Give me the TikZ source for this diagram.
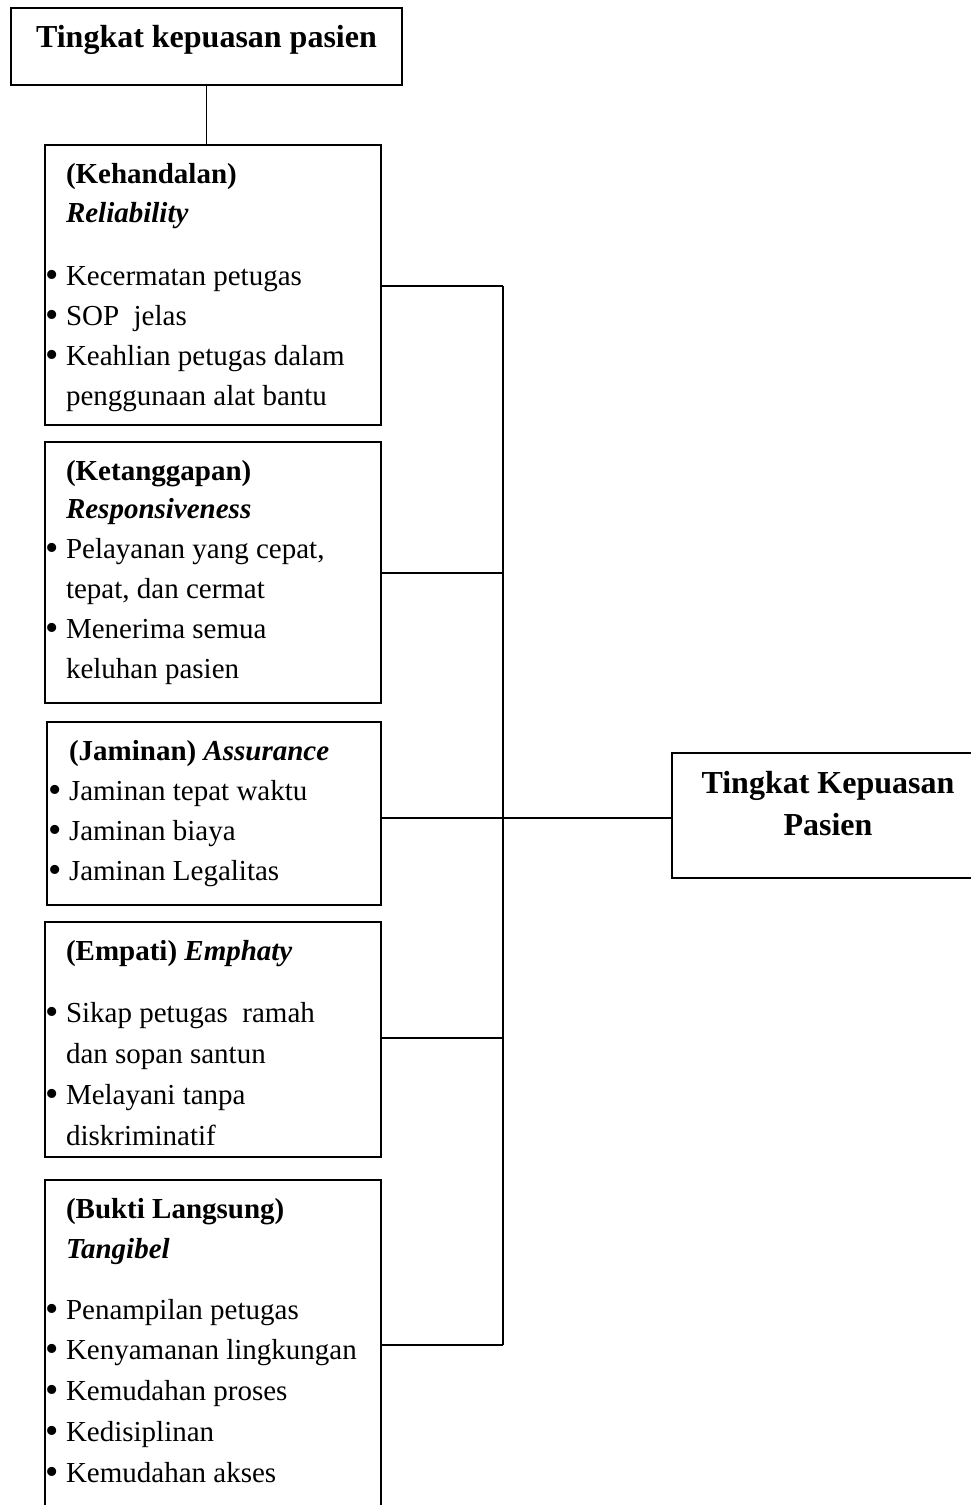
\documentclass[tikz,border=0pt]{standalone}
\usepackage{fontspec}
\setmainfont{Liberation Serif}
\newcommand\bul{\makebox[0pt][r]{\raisebox{-2.5pt}{\fontsize{38}{40}\selectfont\textbullet}\kern7pt}}
\tikzset{
  box/.style={draw, line width=1.6pt, rectangle, inner sep=0pt, outer sep=0pt, anchor=north west},
  txt/.style={anchor=base west, inner sep=0pt, outer sep=0pt, font=\fontsize{29}{40}\selectfont},
  ttl/.style={anchor=base, inner sep=0pt, outer sep=0pt, font=\fontsize{32}{40}\selectfont\bfseries},
  conn/.style={line width=1.5pt}
}
\begin{document}
\begin{tikzpicture}[x=1pt,y=-1pt]
\useasboundingbox (0,0) rectangle (971,1505);
\clip (0,0) rectangle (971,1505);

% top box
\node[box, minimum width=391pt, minimum height=77pt] (top) at (11,8) {};
\node[ttl] (toptxt) at (206.5,47) {Tingkat kepuasan pasien};

% box 1
\node[box, minimum width=336pt, minimum height=280pt] (b1) at (45,145) {};
\node[txt] (t1a) at (66,183) {\textbf{(Kehandalan)}};
\node[txt] (t1b) at (66,222) {\textbf{\textit{Reliability}}};
\node[txt] (t1c) at (66,285) {\bul Kecermatan petugas};
\node[txt] (t1d) at (66,325) {\bul SOP\ \ jelas};
\node[txt] (t1e) at (66,365) {\bul Keahlian petugas dalam};
\node[txt] (t1f) at (66,405) {penggunaan alat bantu};

% box 2
\node[box, minimum width=336pt, minimum height=261pt] (b2) at (45,442) {};
\node[txt] (t2a) at (66,480) {\textbf{(Ketanggapan)}};
\node[txt] (t2b) at (66,518) {\textbf{\textit{Responsiveness}}};
\node[txt] (t2c) at (66,558) {\bul Pelayanan yang cepat,};
\node[txt] (t2d) at (66,598) {tepat, dan cermat};
\node[txt] (t2e) at (66,638) {\bul Menerima semua};
\node[txt] (t2f) at (66,678) {keluhan pasien};

% box 3
\node[box, minimum width=334pt, minimum height=183pt] (b3) at (47,722) {};
\node[txt] (t3a) at (69,760) {\textbf{(Jaminan) \textit{Assurance}}};
\node[txt] (t3b) at (69,800) {\bul Jaminan tepat waktu};
\node[txt] (t3c) at (69,840) {\bul Jaminan biaya};
\node[txt] (t3d) at (69,880) {\bul Jaminan Legalitas};

% box 4
\node[box, minimum width=336pt, minimum height=235pt] (b4) at (45,922) {};
\node[txt] (t4a) at (66,960) {\textbf{(Empati) \textit{Emphaty}}};
\node[txt] (t4b) at (66,1022) {\bul Sikap petugas\ \ ramah};
\node[txt] (t4c) at (66,1063) {dan sopan santun};
\node[txt] (t4d) at (66,1104) {\bul Melayani tanpa};
\node[txt] (t4e) at (66,1145) {diskriminatif};

% box 5
\node[box, minimum width=336pt, minimum height=360pt] (b5) at (45,1180) {};
\node[txt] (t5a) at (66,1218) {\textbf{(Bukti Langsung)}};
\node[txt] (t5b) at (66,1258) {\textbf{\textit{Tangibel}}};
\node[txt] (t5c) at (66,1319) {\bul Penampilan petugas};
\node[txt] (t5d) at (66,1359) {\bul Kenyamanan lingkungan};
\node[txt] (t5e) at (66,1400) {\bul Kemudahan proses};
\node[txt] (t5f) at (66,1441) {\bul Kedisiplinan};
\node[txt] (t5g) at (66,1482) {\bul Kemudahan akses};

% right box
\node[box, minimum width=330pt, minimum height=125pt] (rb) at (672,753) {};
\node[ttl] (rba) at (828,793) {Tingkat Kepuasan};
\node[ttl] (rbb) at (828,835) {Pasien};

% connectors
\coordinate (j1) at (503,286);
\coordinate (j2) at (503,573);
\coordinate (j3) at (503,818);
\coordinate (j4) at (503,1038);
\coordinate (j5) at (503,1345);
\draw[conn] (top.south) -- (top.south |- b1.north);
\draw[conn] (b1.east |- j1) -- (j1);
\draw[conn] (b2.east |- j2) -- (j2);
\draw[conn] (b3.east |- j3) -- (rb.west |- j3);
\draw[conn] (b4.east |- j4) -- (j4);
\draw[conn] (b5.east |- j5) -- (j5);
\draw[conn] (j1) -- (j5);
\end{tikzpicture}
\end{document}
